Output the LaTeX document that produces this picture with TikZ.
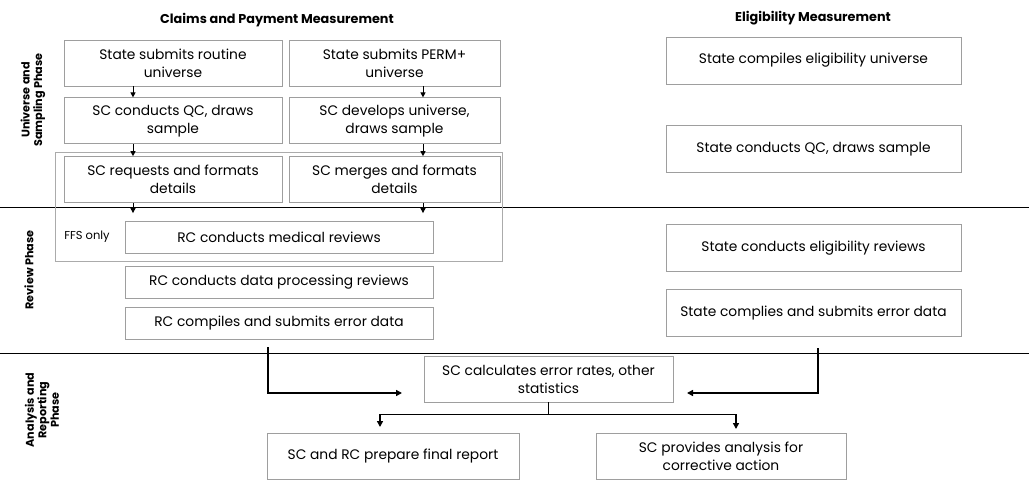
\documentclass[tikz,border=0pt]{standalone}
\usepackage{fontspec}
\setmainfont{Poppins}
\usetikzlibrary{positioning, arrows.meta}

\tikzset{
  box/.style={draw=black!38, line width=0.8pt, align=center, inner sep=2pt,
    font=\fontsize{13.8}{18}\selectfont},
  lbox/.style={box, minimum width=218pt, minimum height=46pt},
  pbox/.style={box, minimum width=211pt, minimum height=46pt},
  ebox/.style={box, minimum width=295pt, minimum height=47pt},
  rbox/.style={box, minimum width=308pt, minimum height=32pt},
  abox/.style={box, minimum width=250pt, minimum height=46pt},
  head/.style={font=\bfseries\fontsize{12.8}{15}\selectfont},
  phase/.style={font=\bfseries\fontsize{11.2}{12.5}\selectfont, rotate=90, align=center},
  arr/.style={-{Triangle[length=5pt,width=5pt]}, line width=1pt},
  bigarr/.style={-{Triangle[length=6pt,width=6pt]}, line width=1.6pt},
}

\begin{document}
\begin{tikzpicture}[x=1pt, y=-1pt]
  \useasboundingbox (0,0) rectangle (1029,487);

  % headings and phases
  \node[head] (hclaims) at (277,20) {Claims and Payment Measurement};
  \node[head] (helig)   at (813,18) {Eligibility Measurement};
  \node[phase] (pusp) at (33,100) {Universe and\\Sampling Phase};
  \node[phase] (prev) at (29,270) {Review Phase};
  \node[phase] (pana) at (42,410) {Analysis and\\Reporting\\Phase};

  % phase dividers
  \draw[line width=0.9pt] (0,207) -- (1029,207);
  \draw[line width=0.9pt] (0,353) -- (1029,353);

  % FFS group
  \draw[black!33, line width=0.8pt] (55,152) rectangle (502,261);

  % claims and payment
  \node[lbox] (rout) at (173,63) {State submits routine\\universe};
  \node[pbox] (perm) at (394.5,63) {State submits PERM+\\universe};
  \node[lbox, below=11pt of rout] (qc)  {SC conducts QC, draws\\sample};
  \node[pbox, below=11pt of perm] (dev) {SC develops universe,\\draws sample};
  \node[lbox, below=12pt of qc]  (req)   {SC requests and formats\\details};
  \node[pbox, below=12pt of dev] (merge) {SC merges and formats\\details};

  \node[font=\fontsize{11.5}{13}\selectfont] (ffs) at (87,237) {FFS only};
  \node[rbox] (med) at (279,237.5) {RC conducts medical reviews};
  \node[rbox, below=12pt of med] (dp)    {RC conducts data processing reviews};
  \node[rbox, below=8pt of dp]   (rcerr) {RC compiles and submits error data};

  % eligibility
  \node[ebox] (elu) at (813.5,60.5) {State compiles eligibility universe};
  \node[ebox, below=41pt of elu] (eqc)  {State conducts QC, draws sample};
  \node[ebox, below=51pt of eqc] (erv)  {State conducts eligibility reviews};
  \node[ebox, below=17pt of erv] (eerr) {State complies and submits error data};

  % analysis and reporting
  \node[abox, minimum width=249pt] (calc) at (548.5,379) {SC calculates error rates, other\\statistics};
  \node[abox, minimum width=252pt] (final) at (393,456) {SC and RC prepare final report};
  \node[abox] (corr) at (721,456) {SC provides analysis for\\corrective action};

  % arrows
  \coordinate (lcol) at (133,0);
  \coordinate (rcol) at (423,0);
  \draw[arr] (rout.south -| lcol) -- (qc.north -| lcol);
  \draw[arr] (perm.south -| rcol) -- (dev.north -| rcol);
  \draw[arr] (qc.south -| lcol) -- (req.north -| lcol);
  \draw[arr] (dev.south -| rcol) -- (merge.north -| rcol);
  \draw[arr, shorten >=8pt] (req.south -| lcol) -- (med.north -| lcol);
  \draw[arr, shorten >=8pt] (merge.south -| rcol) -- (med.north -| rcol);

  \coordinate (lin)  at (268,347);
  \coordinate (lend) at (402,393);
  \coordinate (rin)  at (818,348);
  \coordinate (rend) at (687,393);
  \draw[bigarr] (lin) |- (lend);
  \draw[bigarr] (rin) |- (rend);

  \coordinate (fa) at (380,427);
  \coordinate (ca) at (736,429);
  \draw[line width=1.6pt] (calc.south) -- ++(0,12) coordinate (split);
  \draw[bigarr] (split) -| (fa);
  \draw[bigarr] (split) -| (ca);
\end{tikzpicture}
\end{document}
